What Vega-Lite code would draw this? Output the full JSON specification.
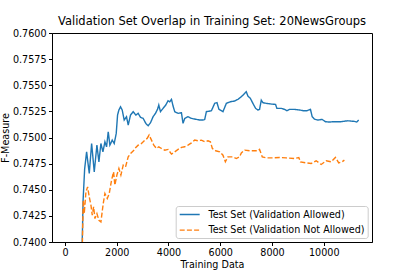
{
  "$schema": "https://vega.github.io/schema/vega-lite/v6.json",
  "width": 320,
  "height": 209,
  "autosize": {"type": "none"},
  "padding": {"left": 52, "top": 33, "right": 43, "bottom": 35},
  "background": "white",
  "title": {"text": "Validation Set Overlap in Training Set: 20NewsGroups", "font": "DejaVu Sans", "fontSize": 11.5, "fontWeight": "normal", "color": "black", "offset": 0.5, "anchor": "middle"},
  "config": {
    "view": {"stroke": "black", "strokeWidth": 1},
    "axis": {"grid": false, "domainColor": "black", "tickColor": "black", "tickSize": 3.5, "labelColor": "black", "labelFont": "DejaVu Sans", "labelFontSize": 9.6, "titleFont": "DejaVu Sans", "titleFontSize": 9.6, "titleFontWeight": "normal", "titleColor": "black", "labelPadding": 2.5},
    "legend": {"title": null, "orient": "none", "legendX": 123.7, "legendY": 173, "symbolType": "M-1,0H3.44", "symbolSize": 81, "symbolStrokeWidth": 1.4, "labelFont": "DejaVu Sans", "labelFontSize": 9.6, "labelColor": "black", "padding": 3, "fillColor": "rgba(255,255,255,0.8)", "strokeColor": "#cccccc", "cornerRadius": 2.5, "labelOffset": 18.7, "rowPadding": 4.6}
  },
  "datasets": {
    "curves": [
      {"x": 60, "y": 0.7, "s": "Test Set (Validation Allowed)"},
      {"x": 640, "y": 0.737, "s": "Test Set (Validation Allowed)"},
      {"x": 700, "y": 0.744, "s": "Test Set (Validation Allowed)"},
      {"x": 760, "y": 0.747, "s": "Test Set (Validation Allowed)"},
      {"x": 836, "y": 0.74863, "s": "Test Set (Validation Allowed)"},
      {"x": 938, "y": 0.74656, "s": "Test Set (Validation Allowed)"},
      {"x": 1029, "y": 0.74943, "s": "Test Set (Validation Allowed)"},
      {"x": 1131, "y": 0.74671, "s": "Test Set (Validation Allowed)"},
      {"x": 1234, "y": 0.74927, "s": "Test Set (Validation Allowed)"},
      {"x": 1311, "y": 0.74767, "s": "Test Set (Validation Allowed)"},
      {"x": 1388, "y": 0.74943, "s": "Test Set (Validation Allowed)"},
      {"x": 1466, "y": 0.74863, "s": "Test Set (Validation Allowed)"},
      {"x": 1543, "y": 0.74959, "s": "Test Set (Validation Allowed)"},
      {"x": 1607, "y": 0.74911, "s": "Test Set (Validation Allowed)"},
      {"x": 1671, "y": 0.75055, "s": "Test Set (Validation Allowed)"},
      {"x": 1735, "y": 0.74927, "s": "Test Set (Validation Allowed)"},
      {"x": 1826, "y": 0.74975, "s": "Test Set (Validation Allowed)"},
      {"x": 1903, "y": 0.74943, "s": "Test Set (Validation Allowed)"},
      {"x": 1980, "y": 0.75039, "s": "Test Set (Validation Allowed)"},
      {"x": 2032, "y": 0.75215, "s": "Test Set (Validation Allowed)"},
      {"x": 2083, "y": 0.75263, "s": "Test Set (Validation Allowed)"},
      {"x": 2147, "y": 0.75294, "s": "Test Set (Validation Allowed)"},
      {"x": 2211, "y": 0.75263, "s": "Test Set (Validation Allowed)"},
      {"x": 2289, "y": 0.75167, "s": "Test Set (Validation Allowed)"},
      {"x": 2378, "y": 0.75199, "s": "Test Set (Validation Allowed)"},
      {"x": 2443, "y": 0.75119, "s": "Test Set (Validation Allowed)"},
      {"x": 2533, "y": 0.75215, "s": "Test Set (Validation Allowed)"},
      {"x": 2635, "y": 0.75247, "s": "Test Set (Validation Allowed)"},
      {"x": 2738, "y": 0.75215, "s": "Test Set (Validation Allowed)"},
      {"x": 2828, "y": 0.75231, "s": "Test Set (Validation Allowed)"},
      {"x": 2918, "y": 0.75193, "s": "Test Set (Validation Allowed)"},
      {"x": 3020, "y": 0.75183, "s": "Test Set (Validation Allowed)"},
      {"x": 3124, "y": 0.75135, "s": "Test Set (Validation Allowed)"},
      {"x": 3213, "y": 0.75112, "s": "Test Set (Validation Allowed)"},
      {"x": 3305, "y": 0.75141, "s": "Test Set (Validation Allowed)"},
      {"x": 3405, "y": 0.75199, "s": "Test Set (Validation Allowed)"},
      {"x": 3497, "y": 0.75231, "s": "Test Set (Validation Allowed)"},
      {"x": 3575, "y": 0.75269, "s": "Test Set (Validation Allowed)"},
      {"x": 3625, "y": 0.75311, "s": "Test Set (Validation Allowed)"},
      {"x": 3690, "y": 0.75247, "s": "Test Set (Validation Allowed)"},
      {"x": 3791, "y": 0.75279, "s": "Test Set (Validation Allowed)"},
      {"x": 3895, "y": 0.75311, "s": "Test Set (Validation Allowed)"},
      {"x": 3984, "y": 0.75352, "s": "Test Set (Validation Allowed)"},
      {"x": 4049, "y": 0.75342, "s": "Test Set (Validation Allowed)"},
      {"x": 4115, "y": 0.75365, "s": "Test Set (Validation Allowed)"},
      {"x": 4177, "y": 0.75301, "s": "Test Set (Validation Allowed)"},
      {"x": 4242, "y": 0.75247, "s": "Test Set (Validation Allowed)"},
      {"x": 4370, "y": 0.75231, "s": "Test Set (Validation Allowed)"},
      {"x": 4500, "y": 0.75237, "s": "Test Set (Validation Allowed)"},
      {"x": 4562, "y": 0.75135, "s": "Test Set (Validation Allowed)"},
      {"x": 4628, "y": 0.75183, "s": "Test Set (Validation Allowed)"},
      {"x": 4755, "y": 0.75199, "s": "Test Set (Validation Allowed)"},
      {"x": 4886, "y": 0.75183, "s": "Test Set (Validation Allowed)"},
      {"x": 5079, "y": 0.75173, "s": "Test Set (Validation Allowed)"},
      {"x": 5206, "y": 0.75167, "s": "Test Set (Validation Allowed)"},
      {"x": 5334, "y": 0.75167, "s": "Test Set (Validation Allowed)"},
      {"x": 5399, "y": 0.75173, "s": "Test Set (Validation Allowed)"},
      {"x": 5465, "y": 0.75247, "s": "Test Set (Validation Allowed)"},
      {"x": 5658, "y": 0.75256, "s": "Test Set (Validation Allowed)"},
      {"x": 5785, "y": 0.75327, "s": "Test Set (Validation Allowed)"},
      {"x": 5874, "y": 0.75333, "s": "Test Set (Validation Allowed)"},
      {"x": 5951, "y": 0.75269, "s": "Test Set (Validation Allowed)"},
      {"x": 6105, "y": 0.75247, "s": "Test Set (Validation Allowed)"},
      {"x": 6236, "y": 0.75327, "s": "Test Set (Validation Allowed)"},
      {"x": 6390, "y": 0.75342, "s": "Test Set (Validation Allowed)"},
      {"x": 6556, "y": 0.75349, "s": "Test Set (Validation Allowed)"},
      {"x": 6684, "y": 0.75365, "s": "Test Set (Validation Allowed)"},
      {"x": 6815, "y": 0.7539, "s": "Test Set (Validation Allowed)"},
      {"x": 6942, "y": 0.75422, "s": "Test Set (Validation Allowed)"},
      {"x": 7007, "y": 0.75438, "s": "Test Set (Validation Allowed)"},
      {"x": 7069, "y": 0.75397, "s": "Test Set (Validation Allowed)"},
      {"x": 7162, "y": 0.75375, "s": "Test Set (Validation Allowed)"},
      {"x": 7262, "y": 0.75327, "s": "Test Set (Validation Allowed)"},
      {"x": 7367, "y": 0.75279, "s": "Test Set (Validation Allowed)"},
      {"x": 7455, "y": 0.75263, "s": "Test Set (Validation Allowed)"},
      {"x": 7520, "y": 0.75269, "s": "Test Set (Validation Allowed)"},
      {"x": 7586, "y": 0.75358, "s": "Test Set (Validation Allowed)"},
      {"x": 7648, "y": 0.75333, "s": "Test Set (Validation Allowed)"},
      {"x": 7779, "y": 0.75327, "s": "Test Set (Validation Allowed)"},
      {"x": 7972, "y": 0.7532, "s": "Test Set (Validation Allowed)"},
      {"x": 8138, "y": 0.75317, "s": "Test Set (Validation Allowed)"},
      {"x": 8188, "y": 0.75279, "s": "Test Set (Validation Allowed)"},
      {"x": 8357, "y": 0.75279, "s": "Test Set (Validation Allowed)"},
      {"x": 8484, "y": 0.75269, "s": "Test Set (Validation Allowed)"},
      {"x": 8573, "y": 0.75256, "s": "Test Set (Validation Allowed)"},
      {"x": 8677, "y": 0.75269, "s": "Test Set (Validation Allowed)"},
      {"x": 8870, "y": 0.75269, "s": "Test Set (Validation Allowed)"},
      {"x": 9063, "y": 0.75263, "s": "Test Set (Validation Allowed)"},
      {"x": 9217, "y": 0.75256, "s": "Test Set (Validation Allowed)"},
      {"x": 9345, "y": 0.75256, "s": "Test Set (Validation Allowed)"},
      {"x": 9487, "y": 0.75269, "s": "Test Set (Validation Allowed)"},
      {"x": 9553, "y": 0.75199, "s": "Test Set (Validation Allowed)"},
      {"x": 9642, "y": 0.75176, "s": "Test Set (Validation Allowed)"},
      {"x": 9769, "y": 0.75167, "s": "Test Set (Validation Allowed)"},
      {"x": 9938, "y": 0.75173, "s": "Test Set (Validation Allowed)"},
      {"x": 10066, "y": 0.75151, "s": "Test Set (Validation Allowed)"},
      {"x": 10220, "y": 0.75148, "s": "Test Set (Validation Allowed)"},
      {"x": 10347, "y": 0.75151, "s": "Test Set (Validation Allowed)"},
      {"x": 10502, "y": 0.75151, "s": "Test Set (Validation Allowed)"},
      {"x": 10670, "y": 0.75151, "s": "Test Set (Validation Allowed)"},
      {"x": 10824, "y": 0.75157, "s": "Test Set (Validation Allowed)"},
      {"x": 10927, "y": 0.7516, "s": "Test Set (Validation Allowed)"},
      {"x": 11057, "y": 0.75157, "s": "Test Set (Validation Allowed)"},
      {"x": 11184, "y": 0.75154, "s": "Test Set (Validation Allowed)"},
      {"x": 11273, "y": 0.75148, "s": "Test Set (Validation Allowed)"},
      {"x": 11350, "y": 0.75167, "s": "Test Set (Validation Allowed)"},
      {"x": 60, "y": 0.7, "s": "Test Set (Validation Not Allowed)"},
      {"x": 640, "y": 0.736, "s": "Test Set (Validation Not Allowed)"},
      {"x": 706, "y": 0.744, "s": "Test Set (Validation Not Allowed)"},
      {"x": 744, "y": 0.74272, "s": "Test Set (Validation Not Allowed)"},
      {"x": 810, "y": 0.7448, "s": "Test Set (Validation Not Allowed)"},
      {"x": 874, "y": 0.74527, "s": "Test Set (Validation Not Allowed)"},
      {"x": 938, "y": 0.74431, "s": "Test Set (Validation Not Allowed)"},
      {"x": 1003, "y": 0.74352, "s": "Test Set (Validation Not Allowed)"},
      {"x": 1054, "y": 0.74256, "s": "Test Set (Validation Not Allowed)"},
      {"x": 1106, "y": 0.74336, "s": "Test Set (Validation Not Allowed)"},
      {"x": 1157, "y": 0.74224, "s": "Test Set (Validation Not Allowed)"},
      {"x": 1234, "y": 0.74272, "s": "Test Set (Validation Not Allowed)"},
      {"x": 1311, "y": 0.74208, "s": "Test Set (Validation Not Allowed)"},
      {"x": 1388, "y": 0.74192, "s": "Test Set (Validation Not Allowed)"},
      {"x": 1478, "y": 0.74368, "s": "Test Set (Validation Not Allowed)"},
      {"x": 1543, "y": 0.74464, "s": "Test Set (Validation Not Allowed)"},
      {"x": 1633, "y": 0.74416, "s": "Test Set (Validation Not Allowed)"},
      {"x": 1710, "y": 0.74464, "s": "Test Set (Validation Not Allowed)"},
      {"x": 1800, "y": 0.74592, "s": "Test Set (Validation Not Allowed)"},
      {"x": 1877, "y": 0.74671, "s": "Test Set (Validation Not Allowed)"},
      {"x": 1928, "y": 0.74544, "s": "Test Set (Validation Not Allowed)"},
      {"x": 2005, "y": 0.7464, "s": "Test Set (Validation Not Allowed)"},
      {"x": 2083, "y": 0.74704, "s": "Test Set (Validation Not Allowed)"},
      {"x": 2160, "y": 0.7464, "s": "Test Set (Validation Not Allowed)"},
      {"x": 2250, "y": 0.74735, "s": "Test Set (Validation Not Allowed)"},
      {"x": 2340, "y": 0.74719, "s": "Test Set (Validation Not Allowed)"},
      {"x": 2443, "y": 0.74815, "s": "Test Set (Validation Not Allowed)"},
      {"x": 2545, "y": 0.7485, "s": "Test Set (Validation Not Allowed)"},
      {"x": 2674, "y": 0.7488, "s": "Test Set (Validation Not Allowed)"},
      {"x": 2738, "y": 0.74905, "s": "Test Set (Validation Not Allowed)"},
      {"x": 2828, "y": 0.74927, "s": "Test Set (Validation Not Allowed)"},
      {"x": 2958, "y": 0.74943, "s": "Test Set (Validation Not Allowed)"},
      {"x": 3085, "y": 0.74975, "s": "Test Set (Validation Not Allowed)"},
      {"x": 3174, "y": 0.74991, "s": "Test Set (Validation Not Allowed)"},
      {"x": 3251, "y": 0.75023, "s": "Test Set (Validation Not Allowed)"},
      {"x": 3343, "y": 0.74975, "s": "Test Set (Validation Not Allowed)"},
      {"x": 3432, "y": 0.74927, "s": "Test Set (Validation Not Allowed)"},
      {"x": 3536, "y": 0.74895, "s": "Test Set (Validation Not Allowed)"},
      {"x": 3625, "y": 0.74911, "s": "Test Set (Validation Not Allowed)"},
      {"x": 3729, "y": 0.74895, "s": "Test Set (Validation Not Allowed)"},
      {"x": 3857, "y": 0.74879, "s": "Test Set (Validation Not Allowed)"},
      {"x": 3984, "y": 0.74886, "s": "Test Set (Validation Not Allowed)"},
      {"x": 4115, "y": 0.74841, "s": "Test Set (Validation Not Allowed)"},
      {"x": 4242, "y": 0.74863, "s": "Test Set (Validation Not Allowed)"},
      {"x": 4370, "y": 0.74886, "s": "Test Set (Validation Not Allowed)"},
      {"x": 4500, "y": 0.74905, "s": "Test Set (Validation Not Allowed)"},
      {"x": 4628, "y": 0.74911, "s": "Test Set (Validation Not Allowed)"},
      {"x": 4755, "y": 0.74927, "s": "Test Set (Validation Not Allowed)"},
      {"x": 4886, "y": 0.74949, "s": "Test Set (Validation Not Allowed)"},
      {"x": 5013, "y": 0.74975, "s": "Test Set (Validation Not Allowed)"},
      {"x": 5141, "y": 0.74968, "s": "Test Set (Validation Not Allowed)"},
      {"x": 5272, "y": 0.74975, "s": "Test Set (Validation Not Allowed)"},
      {"x": 5399, "y": 0.74959, "s": "Test Set (Validation Not Allowed)"},
      {"x": 5526, "y": 0.74968, "s": "Test Set (Validation Not Allowed)"},
      {"x": 5619, "y": 0.74959, "s": "Test Set (Validation Not Allowed)"},
      {"x": 5696, "y": 0.74895, "s": "Test Set (Validation Not Allowed)"},
      {"x": 5823, "y": 0.74873, "s": "Test Set (Validation Not Allowed)"},
      {"x": 5978, "y": 0.74863, "s": "Test Set (Validation Not Allowed)"},
      {"x": 6105, "y": 0.74831, "s": "Test Set (Validation Not Allowed)"},
      {"x": 6198, "y": 0.74767, "s": "Test Set (Validation Not Allowed)"},
      {"x": 6298, "y": 0.74815, "s": "Test Set (Validation Not Allowed)"},
      {"x": 6491, "y": 0.74815, "s": "Test Set (Validation Not Allowed)"},
      {"x": 6622, "y": 0.74799, "s": "Test Set (Validation Not Allowed)"},
      {"x": 6749, "y": 0.74815, "s": "Test Set (Validation Not Allowed)"},
      {"x": 6815, "y": 0.74853, "s": "Test Set (Validation Not Allowed)"},
      {"x": 6942, "y": 0.74879, "s": "Test Set (Validation Not Allowed)"},
      {"x": 7135, "y": 0.74873, "s": "Test Set (Validation Not Allowed)"},
      {"x": 7455, "y": 0.74873, "s": "Test Set (Validation Not Allowed)"},
      {"x": 7520, "y": 0.74886, "s": "Test Set (Validation Not Allowed)"},
      {"x": 7624, "y": 0.74815, "s": "Test Set (Validation Not Allowed)"},
      {"x": 7779, "y": 0.74805, "s": "Test Set (Validation Not Allowed)"},
      {"x": 8034, "y": 0.74805, "s": "Test Set (Validation Not Allowed)"},
      {"x": 8292, "y": 0.74809, "s": "Test Set (Validation Not Allowed)"},
      {"x": 8550, "y": 0.74805, "s": "Test Set (Validation Not Allowed)"},
      {"x": 8870, "y": 0.74799, "s": "Test Set (Validation Not Allowed)"},
      {"x": 9036, "y": 0.74809, "s": "Test Set (Validation Not Allowed)"},
      {"x": 9101, "y": 0.74767, "s": "Test Set (Validation Not Allowed)"},
      {"x": 9320, "y": 0.74757, "s": "Test Set (Validation Not Allowed)"},
      {"x": 9514, "y": 0.74751, "s": "Test Set (Validation Not Allowed)"},
      {"x": 9707, "y": 0.74777, "s": "Test Set (Validation Not Allowed)"},
      {"x": 9900, "y": 0.74742, "s": "Test Set (Validation Not Allowed)"},
      {"x": 10093, "y": 0.74777, "s": "Test Set (Validation Not Allowed)"},
      {"x": 10286, "y": 0.74767, "s": "Test Set (Validation Not Allowed)"},
      {"x": 10451, "y": 0.74809, "s": "Test Set (Validation Not Allowed)"},
      {"x": 10579, "y": 0.74757, "s": "Test Set (Validation Not Allowed)"},
      {"x": 10709, "y": 0.74767, "s": "Test Set (Validation Not Allowed)"},
      {"x": 10798, "y": 0.74783, "s": "Test Set (Validation Not Allowed)"}
    ]
  },
  "data": {"name": "curves"},
  "mark": {"type": "line", "clip": true, "strokeWidth": 1.4},
  "encoding": {
    "x": {"field": "x", "type": "quantitative", "title": "Training Data",
      "scale": {"domain": [-502, 11865], "nice": false, "zero": false},
      "axis": {"values": [0, 2000, 4000, 6000, 8000, 10000], "format": "d", "titlePadding": 2.5, "labelPadding": 2}},
    "y": {"field": "y", "type": "quantitative", "title": "F-Measure",
      "scale": {"domain": [0.74, 0.76], "nice": false, "zero": false},
      "axis": {"values": [0.74, 0.7425, 0.745, 0.7475, 0.75, 0.7525, 0.755, 0.7575, 0.76], "format": ".4f", "titlePadding": 2}},
    "color": {"field": "s", "type": "nominal",
      "scale": {"domain": ["Test Set (Validation Allowed)", "Test Set (Validation Not Allowed)"], "range": ["#1f77b4", "#ff7f0e"]}},
    "strokeDash": {"field": "s", "type": "nominal",
      "scale": {"domain": ["Test Set (Validation Allowed)", "Test Set (Validation Not Allowed)"], "range": [[1, 0], [5, 2.2]]}}
  }
}
